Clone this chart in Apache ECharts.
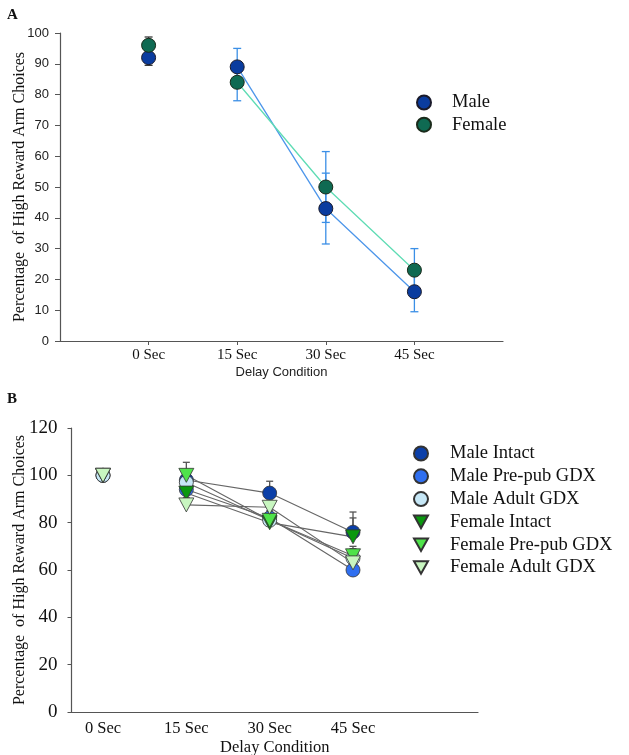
<!DOCTYPE html>
<html><head><meta charset="utf-8">
<script src="https://cdn.jsdelivr.net/npm/echarts@6/dist/echarts.min.js"></script>
<style>html,body{margin:0;padding:0;background:#fff}#c{width:629px;height:755px}</style>
</head><body><div id="c"></div>
<script>
// ---- data ----
const delays = [0, 15, 30, 45];
const delayLabels = ['0 Sec', '15 Sec', '30 Sec', '45 Sec'];

// Panel A
const maleA = [92, 89, 43, 16];
const maleErrA = [2.5, 6, 11.5, 6.5];
const femaleA = [96, 84, 50, 23];
const femaleErrA = [2.7, 6, 11.5, 7];

// Panel B
const groupsB = ['Male Intact', 'Male Pre-pub GDX', 'Male Adult GDX', 'Female Intact', 'Female Pre-pub GDX', 'Female Adult GDX'];
const maleIntactB = [100, 98, 92.5, 76];
const malePrepubB = [100, 94, 82, 60];
const maleAdultB = [100, 97, 81, 65];
const femaleIntactB = [100, 92.5, 80, 74];
const femalePrepubB = [100, 100, 81, 66];
const femaleAdultB = [100, 87.5, 86.5, 63];
const errMaleIntactB = [0, 4, 5, 8.5];
const errMalePrepubB = [0, 3, 3, 3];
const errMaleAdultB = [0, 3, 3, 3];
const errFemaleIntactB = [0, 4, 3, 8];
const errFemalePrepubB = [0, 5.5, 3, 4];
const errFemaleAdultB = [0, 3, 2, 6];

const yTicksA = [0, 10, 20, 30, 40, 50, 60, 70, 80, 90, 100];
const yTicksB = [0, 20, 40, 60, 80, 100, 120];

// ---- helpers ----
const serif = '"Liberation Serif", "Times New Roman", serif';
const sans = '"Liberation Sans", Arial, sans-serif';
const triDown = 'path://M0,0 L10,0 L5,9 Z';
function pts(vals, from) { return delays.map((d, i) => [d, vals[i]]).slice(from || 0); }
function errData(vals, errs, both) {
  return delays.map((d, i) => [d, vals[i], both ? vals[i] - errs[i] : vals[i], vals[i] + errs[i]]).filter(r => r[3] !== r[1]);
}
function errRender(colorFn, capW) {
  return function (params, api) {
    const x = api.value(0), y = api.value(1), lo = api.value(2), hi = api.value(3);
    const pLo = api.coord([x, lo]), pHi = api.coord([x, hi]);
    const c = colorFn(x);
    const st = { stroke: c, lineWidth: 1.3 };
    const ch = [
      { type: 'line', shape: { x1: pLo[0], y1: pLo[1], x2: pHi[0], y2: pHi[1] }, style: st },
      { type: 'line', shape: { x1: pHi[0] - capW, y1: pHi[1], x2: pHi[0] + capW, y2: pHi[1] }, style: st }
    ];
    if (lo !== y) ch.push({ type: 'line', shape: { x1: pLo[0] - capW, y1: pLo[1], x2: pLo[0] + capW, y2: pLo[1] }, style: st });
    return { type: 'group', children: ch };
  };
}
const errColA = x => x === 0 ? '#3a3a3a' : '#3b8fe6';
const errColB = x => '#555';

const series = [];
// Panel A error bars
series.push({ type: 'custom', xAxisIndex: 0, yAxisIndex: 0, z: 1, renderItem: errRender(errColA, 4), data: errData(maleA, maleErrA, true), silent: true });
series.push({ type: 'custom', xAxisIndex: 0, yAxisIndex: 0, z: 1, renderItem: errRender(errColA, 4), data: errData(femaleA, femaleErrA, true), silent: true });
// Panel A lines
series.push({ type: 'line', xAxisIndex: 0, yAxisIndex: 0, z: 2, data: pts(maleA, 1), showSymbol: false, lineStyle: { color: '#4d96ea', width: 1.3 }, silent: true });
series.push({ type: 'line', xAxisIndex: 0, yAxisIndex: 0, z: 2, data: pts(femaleA, 1), showSymbol: false, lineStyle: { color: '#5fdcb4', width: 1.3 }, silent: true });
// Panel A markers
series.push({ name: 'Male', type: 'scatter', xAxisIndex: 0, yAxisIndex: 0, z: 3, data: pts(maleA), symbol: 'circle', symbolSize: 14, itemStyle: { color: '#0a3c9f', borderColor: '#1a1a2a', borderWidth: 1, opacity: 1 } });
series.push({ name: 'Female', type: 'scatter', xAxisIndex: 0, yAxisIndex: 0, z: 3, data: pts(femaleA), symbol: 'circle', symbolSize: 14, itemStyle: { color: '#0f6a52', borderColor: '#1a2a1a', borderWidth: 1, opacity: 1 } });

// Panel B
const bVals = [maleIntactB, malePrepubB, maleAdultB, femaleIntactB, femalePrepubB, femaleAdultB];
const bErrs = [errMaleIntactB, errMalePrepubB, errMaleAdultB, errFemaleIntactB, errFemalePrepubB, errFemaleAdultB];
const bColors = ['#0b3fa8', '#2f6ff0', '#c6e7f6', '#0a980f', '#4fe34a', '#c8f6c0'];
const bSymbols = ['circle', 'circle', 'circle', triDown, triDown, triDown];
bVals.forEach((v, i) => {
  series.push({ type: 'custom', xAxisIndex: 1, yAxisIndex: 1, z: 1, renderItem: errRender(errColB, 3.5), data: errData(v, bErrs[i], false), silent: true });
  series.push({ type: 'line', xAxisIndex: 1, yAxisIndex: 1, z: 2, data: pts(v, 1), showSymbol: false, lineStyle: { color: '#666', width: 1.1 }, silent: true });
});
bVals.forEach((v, i) => {
  series.push({ name: groupsB[i], type: 'scatter', xAxisIndex: 1, yAxisIndex: 1, z: 3 + i, data: pts(v), symbol: bSymbols[i], symbolSize: i < 3 ? 14 : [15, 14], itemStyle: { color: bColors[i], borderColor: '#333', borderWidth: 0.8, opacity: 1 } });
});

const chart = echarts.init(document.getElementById('c'), null, { renderer: 'canvas' });
chart.setOption({
  animation: false,
  backgroundColor: '#fff',
  title: [
    { text: 'A', left: 7, top: 8, padding: 0, textStyle: { fontFamily: serif, fontWeight: 'bold', fontSize: 15, color: '#111' } },
    { text: 'B', left: 7, top: 392, padding: 0, textStyle: { fontFamily: serif, fontWeight: 'bold', fontSize: 15, color: '#111' } }
  ],
  grid: [
    { left: 60, top: 33, width: 443, height: 308, outerBoundsMode: 'none', containLabel: false },
    { left: 71.5, top: 428, width: 406.5, height: 284, outerBoundsMode: 'none', containLabel: false }
  ],
  legend: [
    { data: ['Male', 'Female'], orient: 'vertical', left: 411, top: 88, itemWidth: 14, itemHeight: 14, itemGap: 3.2, selectedMode: false,
      textStyle: { fontFamily: serif, fontSize: 18.5, color: '#111', lineHeight: 14, padding: [0, 0, 0, 16] } },
    { data: groupsB, orient: 'vertical', left: 408, top: 439, itemWidth: 14, itemHeight: 14, itemGap: 3.8, selectedMode: false,
      textStyle: { fontFamily: serif, fontSize: 18.5, color: '#111', lineHeight: 14, padding: [0, 0, 0, 17] } }
  ],
  xAxis: [
    { gridIndex: 0, type: 'value', min: -15, max: 60,
      name: 'Delay Condition', nameLocation: 'middle', nameGap: 25, nameTextStyle: { fontFamily: sans, fontSize: 13, color: '#222' },
      axisLine: { onZero: false, lineStyle: { color: '#555', width: 1.2 } },
      axisTick: { show: true, customValues: delays, length: 4, lineStyle: { color: '#555' } },
      axisLabel: { customValues: delays, formatter: v => delayLabels[delays.indexOf(v)], fontFamily: serif, fontSize: 15, color: '#111', margin: 7 },
      splitLine: { show: false } },
    { gridIndex: 1, type: 'value', min: -5.67, max: 67.5,
      name: 'Delay Condition', nameLocation: 'middle', nameGap: 27, nameTextStyle: { fontFamily: serif, fontSize: 16.5, color: '#111' },
      axisLine: { onZero: false, lineStyle: { color: '#555', width: 1.2 } },
      axisTick: { show: false },
      axisLabel: { customValues: delays, formatter: v => delayLabels[delays.indexOf(v)], fontFamily: serif, fontSize: 16.5, color: '#111', margin: 8 },
      splitLine: { show: false } }
  ],
  yAxis: [
    { gridIndex: 0, type: 'value', min: 0, max: 100, interval: 10,
      name: 'Percentage  of High Reward Arm Choices', nameLocation: 'middle', nameGap: 32, nameRotate: 90, nameMoveOverlap: false,
      nameTextStyle: { fontFamily: serif, fontSize: 16, color: '#111' },
      axisLine: { show: true, onZero: false, lineStyle: { color: '#555', width: 1.2 } },
      axisTick: { show: true, length: 5, lineStyle: { color: '#555' } },
      axisLabel: { customValues: yTicksA, fontFamily: sans, fontSize: 13, color: '#222', margin: 11 },
      splitLine: { show: false } },
    { gridIndex: 1, type: 'value', min: 0, max: 120, interval: 20,
      name: 'Percentage  of High Reward Arm Choices', nameLocation: 'middle', nameGap: 43.5, nameRotate: 90, nameMoveOverlap: false,
      nameTextStyle: { fontFamily: serif, fontSize: 16, color: '#111' },
      axisLine: { show: true, onZero: false, lineStyle: { color: '#555', width: 1.2 } },
      axisTick: { show: true, length: 4, lineStyle: { color: '#555' } },
      axisLabel: { customValues: yTicksB, fontFamily: serif, fontSize: 19, color: '#111', margin: 14 },
      splitLine: { show: false } }
  ],
  series: series
});
</script></body></html>
